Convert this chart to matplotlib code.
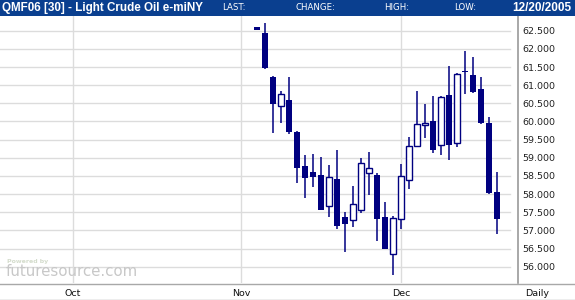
import matplotlib.pyplot as plt
import matplotlib as mpl
import pandas as pd

# daily OHLC, QMF06 light crude e-miNY
dates = pd.bdate_range("2005-11-03", "2005-12-19")
holidays = pd.to_datetime(["2005-11-24", "2005-11-25"])
dates = dates.drop(holidays)

opens = [62.59, 62.44, 61.23, 60.42, 60.58, 59.72, 58.77, 58.61, 58.53, 57.66, 58.41,
         57.36, 57.28, 57.55, 58.59, 58.53, 57.37, 56.34, 57.30, 58.38, 59.32, 59.89,
         60.01, 59.34, 60.73, 59.41, 61.40, 61.27, 60.89, 59.96, 58.06]
highs = [62.59, 62.71, 61.25, 60.84, 61.23, 59.74, 59.07, 59.10, 59.01, 58.80, 59.21,
         57.51, 58.23, 58.98, 59.16, 58.59, 57.79, 57.40, 58.83, 59.57, 60.84, 60.47,
         60.71, 60.71, 61.53, 61.33, 61.94, 61.78, 61.22, 60.11, 58.61]
lows = [62.53, 61.44, 59.69, 59.97, 59.65, 58.30, 57.90, 58.20, 57.57, 57.38, 57.05,
        56.41, 57.10, 57.49, 57.98, 56.72, 56.48, 55.76, 57.03, 58.15, 59.30, 59.55,
        59.12, 59.07, 58.95, 59.30, 60.75, 60.78, 59.92, 58.00, 56.89]
closes = [62.53, 61.46, 60.49, 60.76, 59.72, 58.72, 58.45, 58.48, 57.57, 58.46, 57.13,
          57.18, 57.73, 58.85, 58.73, 57.32, 56.48, 57.34, 58.49, 59.32, 59.93, 59.96,
          59.20, 60.67, 59.36, 61.30, 61.35, 60.81, 59.95, 58.03, 57.32]

month_starts = pd.to_datetime(["2005-10-03", "2005-11-01", "2005-12-01"])
month_labels = ["Oct", "Nov", "Dec"]
price_ticks = [56.0, 56.5, 57.0, 57.5, 58.0, 58.5, 59.0, 59.5, 60.0, 60.5, 61.0, 61.5, 62.0, 62.5]

# trading-day axis
sessions = pd.bdate_range("2005-10-03", "2005-12-30").drop(holidays)
x = sessions.get_indexer(dates)
month_x = sessions.get_indexer(month_starts)

navy = "#000080"
grid = "#dcdcdc"
W, H = 575.0, 300.0

fig = plt.figure(figsize=(5.75, 3.0), dpi=100)
ax = fig.add_axes([0, 17 / H, 518 / W, (284 - 17) / H])

ax.set_xlim(-73 / 8.0, (518 - 73) / 8.0)
ax.set_ylim(55.55, 62.905)

for p in price_ticks:
    ax.axhline(p, xmin=0, xmax=510 / 518.0, color=grid, lw=1.0, zorder=0)
for m in month_x:
    ax.axvline(m, color=grid, lw=1.0, zorder=0)

for i in range(len(x)):
    o, h, l, c = opens[i], highs[i], lows[i], closes[i]
    if h > l and i > 0:
        ax.vlines(x[i], l, h, color=navy, lw=1.1, zorder=2)
    bottom = min(o, c)
    height = max(abs(c - o), 0.05)
    if c >= o:
        ax.bar(x[i], height, bottom=bottom, width=0.72, facecolor="white",
               edgecolor=navy, linewidth=1.0, zorder=3)
    else:
        ax.bar(x[i], height, bottom=bottom, width=0.8, color=navy,
               linewidth=0, zorder=3)

for s in ["top", "left", "bottom"]:
    ax.spines[s].set_visible(False)
ax.spines["right"].set_color("#999999")
ax.spines["right"].set_linewidth(1.2)

ax.yaxis.tick_right()
ax.set_yticks(price_ticks)
ax.set_yticklabels(["%.3f" % p for p in price_ticks])
ax.set_xticks(month_x)
ax.set_xticklabels(month_labels)
ax.tick_params(axis="y", length=0, pad=3, labelsize=6.8, labelcolor="#222222")
ax.tick_params(axis="x", length=0, pad=4.5, labelsize=6.8, labelcolor="#111111")

# frame lines
fig.add_artist(mpl.lines.Line2D([0, 1], [1 - 284 / H, 1 - 284 / H], color="#a8a8a8", lw=1.0))
fig.add_artist(mpl.lines.Line2D([0, 1], [1 - 299.5 / H, 1 - 299.5 / H], color="#a8a8a8", lw=1.0))
fig.text(537 / W, 1 - 293 / H, "Daily", ha="center", va="center", fontsize=6.8, color="#111111")

# header bar
fig.add_artist(mpl.patches.Rectangle((0, 1 - 15.5 / H), 1, 15.5 / H, transform=fig.transFigure,
                                     facecolor="#0a3f8f", edgecolor="none", zorder=5))
hy = 1 - 8 / H
fig.text(2 / W, hy, "QMF06 [30] - Light Crude Oil e-miNY", ha="left", va="center",
         fontsize=8.4, fontweight="bold", color="white", family="Liberation Sans", zorder=6)
for lbl, px in [("LAST:", 222), ("CHANGE:", 296), ("HIGH:", 384), ("LOW:", 454)]:
    fig.text(px / W, hy, lbl, ha="left", va="center", fontsize=6.2, color="white", zorder=6)
fig.text(571 / W, hy, "12/20/2005", ha="right", va="center", fontsize=8.5,
         fontweight="bold", color="white", family="Liberation Sans", zorder=6)

# watermark
fig.text(7 / W, 1 - 262 / H, "Powered by", fontsize=4.5, color="#d4dccc", fontweight="bold",
         ha="left", va="center")
fig.text(6 / W, 1 - 272 / H, "futuresource.com", fontsize=10.8, color="#c8c8c8",
         ha="left", va="center")

plt.savefig("out.png", dpi=100)
plt.close()
